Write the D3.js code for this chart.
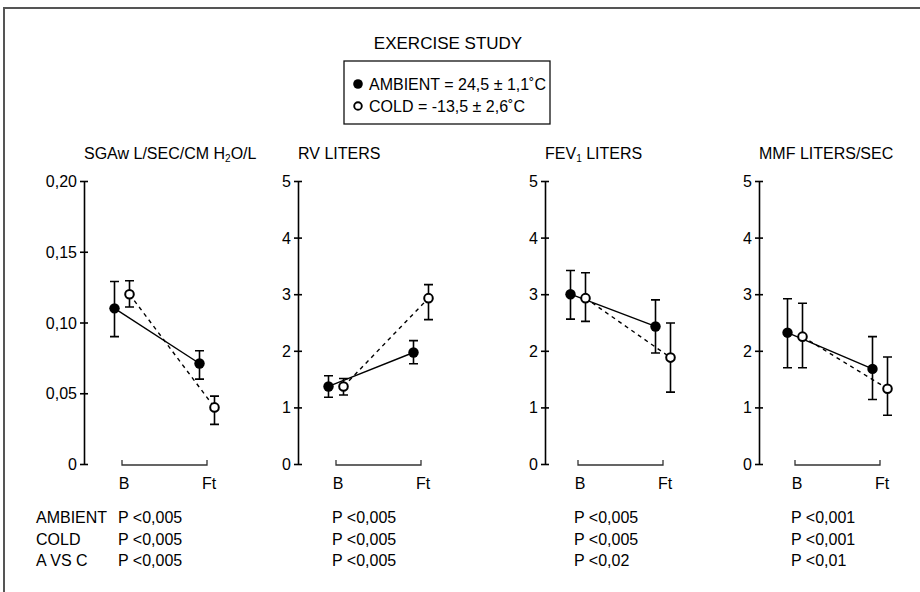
<!DOCTYPE html>
<html><head><meta charset="utf-8">
<script src="https://cdn.jsdelivr.net/npm/d3@7/dist/d3.min.js"></script>
<style>
body{margin:0;background:#fff;}
svg{display:block;font-family:"Liberation Sans",Arial,Helvetica,sans-serif;}
</style></head>
<body><svg id="c" width="920" height="592"></svg>
<script>
// ---------- data ----------
const phases = ["B", "Ft"];
const panelTitles = [
  ["SGAw L/SEC/CM H", "2", "O/L"],
  ["RV LITERS", "", ""],
  ["FEV", "1", " LITERS"],
  ["MMF LITERS/SEC", "", ""]
];
const yMax = [0.20, 5, 5, 5];
const tickValues = [[0, 0.05, 0.10, 0.15, 0.20], [0,1,2,3,4,5], [0,1,2,3,4,5], [0,1,2,3,4,5]];
const tickLabels = [["0", "0,05", "0,10", "0,15", "0,20"], ["0","1","2","3","4","5"], ["0","1","2","3","4","5"], ["0","1","2","3","4","5"]];

// ambient (filled): mean, lower, upper at B and Ft
const ambientMean = [[0.110, 0.071], [1.37, 1.97], [3.00, 2.43], [2.32, 1.68]];
const ambientLow  = [[0.090, 0.060], [1.18, 1.77], [2.56, 1.96], [1.70, 1.14]];
const ambientHigh = [[0.129, 0.080], [1.56, 2.18], [3.42, 2.90], [2.92, 2.25]];
// cold (open)
const coldMean = [[0.120, 0.040], [1.37, 2.93], [2.93, 1.88], [2.25, 1.33]];
const coldLow  = [[0.111, 0.028], [1.22, 2.55], [2.52, 1.27], [1.70, 0.86]];
const coldHigh = [[0.1295, 0.048], [1.51, 3.17], [3.38, 2.49], [2.84, 1.89]];

const rowLabels = ["AMBIENT", "COLD", "A VS C"];
const pValues = [
  ["P <0,005", "P <0,005", "P <0,005"],
  ["P <0,005", "P <0,005", "P <0,005"],
  ["P <0,005", "P <0,005", "P <0,02"],
  ["P <0,001", "P <0,001", "P <0,01"]
];
const chartTitle = "EXERCISE STUDY";
const legendLabels = ["AMBIENT = 24,5 ± 1,1˚C", "COLD = -13,5 ± 2,6˚C"];

// ---------- layout ----------
const axisX = [84, 298, 545, 759];
const groupStart = [122, 336, 578, 795];
const groupWidth = 85;
const yTop = 181, yBottom = 464;
const off = 7.5;

const svg = d3.select("#c");
// frame
svg.append("rect").attr("x", 4).attr("y", 8).attr("width", 1000).attr("height", 1000)
  .attr("fill", "none").attr("stroke", "#555").attr("stroke-width", 2);

// title + legend
svg.append("text").attr("x", 448).attr("y", 48.5).attr("text-anchor", "middle")
  .attr("font-size", "17px").text(chartTitle);
svg.append("rect").attr("x", 344).attr("y", 61).attr("width", 206).attr("height", 63)
  .attr("fill", "none").attr("stroke", "#111").attr("stroke-width", 1.3);
legendLabels.forEach((t, i) => {
  const cy = 84 + i * 22;
  svg.append("circle").attr("cx", 358).attr("cy", cy).attr("r", i === 0 ? 4.8 : 3.8)
    .attr("fill", i === 0 ? "#000" : "#fff").attr("stroke", "#000").attr("stroke-width", i === 0 ? 0 : 1.9);
  svg.append("text").attr("x", 369).attr("y", cy + 6).attr("font-size", "16px").text(t);
});

for (let p = 0; p < 4; p++) {
  const g = svg.append("g");
  const y = d3.scaleLinear().domain([0, yMax[p]]).range([yBottom, yTop]);
  const x = d3.scalePoint().domain(phases).range([groupStart[p], groupStart[p] + groupWidth]);

  // axis line and ticks (labels drawn separately)
  const ax = d3.axisLeft(y).tickValues(tickValues[p]).tickFormat("")
    .tickSizeInner(4).tickSizeOuter(0);
  const axg = g.append("g").attr("transform", `translate(${axisX[p]},0)`).call(ax);
  axg.select(".domain").attr("stroke", "#000").attr("stroke-width", 1.6);
  axg.selectAll(".tick line").attr("x2", 4).attr("x1", -4).attr("stroke-width", 1.6);
  g.selectAll(".tlab").data(tickValues[p]).join("text").attr("class", "tlab")
    .attr("x", axisX[p] - 7).attr("y", d => y(d)).attr("dy", "0.38em")
    .attr("text-anchor", "end").attr("font-size", "16px").attr("fill", "#000")
    .text((d, i) => tickLabels[p][i]);

  // title
  const tt = g.append("text").attr("x", axisX[p]).attr("y", 158.5).attr("font-size", "16px");
  tt.append("tspan").text(panelTitles[p][0]);
  if (panelTitles[p][1]) {
    tt.append("tspan").attr("font-size", "10px").attr("dy", 3).text(panelTitles[p][1]);
    tt.append("tspan").attr("dy", -3).text(panelTitles[p][2]);
  }

  // bracket
  const bx0 = x("B"), bx1 = x("Ft"), by = yBottom + 1;
  g.append("path").attr("d", `M${bx0},${by - 5}V${by}H${bx1}V${by - 5}`)
    .attr("fill", "none").attr("stroke", "#333").attr("stroke-width", 1.3);
  g.selectAll(".plab").data(phases).join("text").attr("class", "plab")
    .attr("x", d => x(d) + 2).attr("y", 488.5).attr("text-anchor", "middle")
    .attr("font-size", "16px").text(d => d);

  const series = [
    {mean: ambientMean[p], lo: ambientLow[p], hi: ambientHigh[p], dx: -off, filled: true},
    {mean: coldMean[p], lo: coldLow[p], hi: coldHigh[p], dx: off, filled: false}
  ];
  // lines
  series.forEach(s => {
    const line = d3.line().x((d, i) => x(phases[i]) + s.dx).y(d => y(d));
    g.append("path").attr("d", line(s.mean)).attr("fill", "none").attr("stroke", "#000")
      .attr("stroke-width", 1.4).attr("stroke-dasharray", s.filled ? null : "4,4");
  });
  // error bars
  series.forEach(s => {
    phases.forEach((ph, i) => {
      const cx = x(ph) + s.dx;
      g.append("path")
        .attr("d", `M${cx},${y(s.hi[i])}V${y(s.lo[i])}M${cx - 4.5},${y(s.hi[i])}H${cx + 4.5}M${cx - 4.5},${y(s.lo[i])}H${cx + 4.5}`)
        .attr("stroke", "#000").attr("stroke-width", 1.6).attr("fill", "none");
    });
  });
  // markers
  series.forEach(s => {
    phases.forEach((ph, i) => {
      g.append("circle").attr("cx", x(ph) + s.dx).attr("cy", y(s.mean[i]))
        .attr("r", s.filled ? 5.2 : 4.3)
        .attr("fill", s.filled ? "#000" : "#fff").attr("stroke", "#000")
        .attr("stroke-width", s.filled ? 0 : 2);
    });
  });

  // p-values
  pValues[p].forEach((t, r) => {
    g.append("text").attr("x", groupStart[p] - 4).attr("y", 523 + r * 21.7).attr("font-size", "16px").text(t);
  });
}
rowLabels.forEach((t, r) => {
  svg.append("text").attr("x", 36).attr("y", 523 + r * 21.7).attr("font-size", "16px").text(t);
});
</script></body></html>
